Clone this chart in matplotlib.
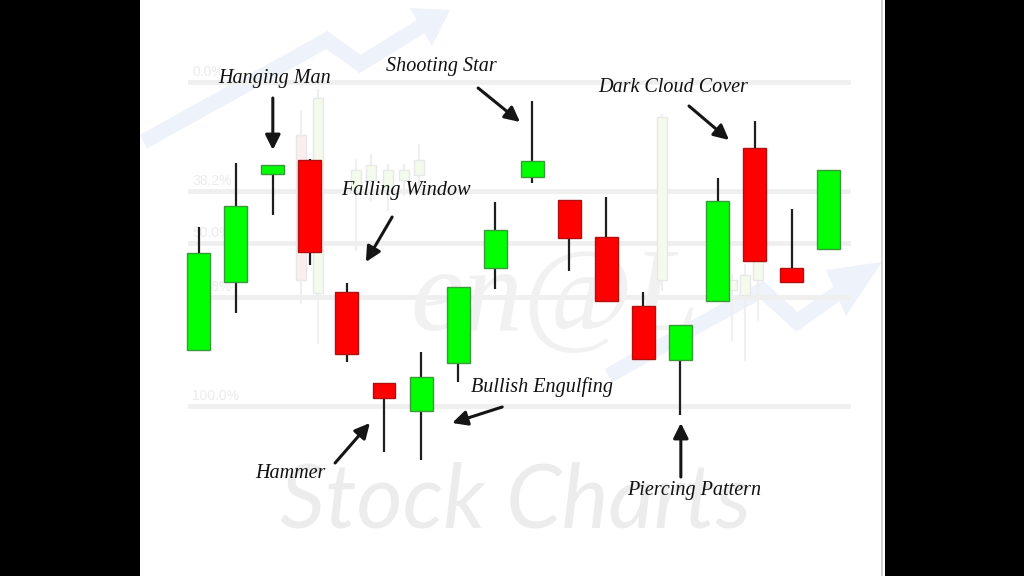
import numpy as np
import matplotlib
matplotlib.use("Agg")
import matplotlib.pyplot as plt
from matplotlib.patches import Rectangle, Polygon

# candle data (price units), one candle per session
opens  = [15.0, 21.8, 32.6, 34.0, 20.8, 11.7,  8.9, 13.7, 23.2, 32.3, 30.0, 26.3, 19.4, 14.0, 19.9, 35.2, 23.2, 25.1]
closes = [24.7, 29.4, 33.5, 24.8, 14.6, 10.2, 12.3, 21.3, 27.0, 33.9, 26.2, 19.9, 14.1, 17.5, 29.9, 23.9, 21.8, 33.0]
highs  = [27.3, 33.7, 33.5, 34.1, 21.7, 11.7, 14.8, 21.3, 29.8, 39.9, 30.0, 30.3, 20.8, 17.5, 32.2, 37.9, 29.1, 33.0]
lows   = [15.0, 18.7, 28.5, 23.5, 13.8,  4.8,  4.0, 11.8, 21.1, 31.7, 22.9, 19.9, 14.1,  8.5, 19.9, 23.9, 21.8, 25.1]

# faint candles of the background picture
ghost_t     = [2.75, 3.22, 4.25, 4.65, 5.1, 5.55, 5.95, 12.5, 14.4, 14.75, 15.1]
ghost_open  = [36.5, 20.7, 31.0, 32.0, 31.0, 32.0, 32.5, 22.0, 21.0, 20.5, 22.0]
ghost_close = [22.0, 40.2, 33.0, 33.5, 33.0, 33.0, 34.0, 38.3, 22.0, 22.5, 24.0]
ghost_high  = [38.8, 41.0, 34.0, 34.5, 33.5, 33.5, 35.5, 38.5, 22.5, 23.5, 25.0]
ghost_low   = [19.7, 15.7, 25.0, 30.0, 29.0, 30.5, 31.5, 21.0, 16.0, 14.0, 18.0]

fib_levels = [41.8, 30.9, 25.7, 20.3, 9.4]
fib_labels = ["0.0%", "38.2%", "50.0%", "61.8%", "100.0%"]

# pattern names: (label, label x, label y, arrow tail, arrow head)
patterns = [
    ("Hanging Man",       2.04, 42.2, (2.00, 40.2), (2.00, 35.0)),
    ("Shooting Star",     6.54, 43.3, (7.54, 41.2), (8.67, 37.8)),
    ("Dark Cloud Cover", 12.80, 41.2, (13.23, 39.4), (14.31, 36.0)),
    ("Falling Window",    5.59, 31.0, (5.22, 28.3), (4.51, 23.8)),
    ("Bullish Engulfing", 9.27, 11.3, (8.19, 9.3), (6.84, 7.7)),
    ("Hammer",            2.47, 2.7, (3.68, 3.7), (4.62, 7.7)),
    ("Piercing Pattern", 13.37, 1.0, (13.01, 2.3), (13.01, 7.7)),
]

W, H = 1024, 576
fig = plt.figure(figsize=(W / 100, H / 100), dpi=100, facecolor="black")
ax = fig.add_axes([140 / W, 0, 745 / W, 1], facecolor="white")
ax.set_xlim(-1.584, 18.519)
ax.set_ylim(-7.6, 50)
ax.axis("off")
ax.add_patch(Rectangle((0, 0), 1, 1, transform=ax.transAxes, facecolor="white",
                       edgecolor="none", zorder=0))
ax.axvline(18.45, color="#c8c8c8", lw=1.2, zorder=1)


def px(x, y):
    # figure fraction from pixel position (top-left origin)
    return (x / W, 1 - y / H)


# pale blue trend arrows of the watermark
for pts, head in [
    ([(150, 138), (327, 40), (360, 64), (425, 24)], [(410, 8), (450, 10), (432, 46)]),
    ([(615, 372), (762, 290), (797, 322), (852, 283)], [(826, 270), (882, 262), (846, 316)]),
]:
    xs, ys = zip(*[px(*p) for p in pts])
    ln = plt.Line2D(xs, ys, color="#eef2fa", lw=11, solid_joinstyle="miter",
                    transform=fig.transFigure, zorder=0.5)
    ln.set_clip_path(ax.patch)
    ax.add_artist(ln)
    ax.add_patch(Polygon([px(*p) for p in head], closed=True, facecolor="#eef2fa",
                         edgecolor="none", transform=fig.transFigure, zorder=0.5))

# fibonacci guide lines
for lev, lab in zip(fib_levels, fib_labels):
    ax.plot([-0.23, 17.52], [lev, lev], color="#efefef", lw=3.5, zorder=1)
    ax.text(-0.18, lev + 0.3, lab, color="#ebebeb", fontsize=10,
            family="Liberation Sans", ha="left", va="bottom", zorder=1)

# watermark texts
ax.text(9.6, 17.0, "en@L", color="#f1f1f1", fontsize=86, style="italic",
        family="Liberation Serif", ha="center", va="baseline", zorder=1)
ax.text(8.55, -2.8, "Stock Charts", color="#ececec", fontsize=64, style="italic",
        family=["Lato", "DejaVu Sans"], ha="center", va="baseline",
        zorder=1, clip_on=True)

# ghost candles
gw = 0.27
for t, o, c, hi, lo in zip(ghost_t, ghost_open, ghost_close, ghost_high, ghost_low):
    col = "#f5fbec" if c >= o else "#fbeeee"
    ax.plot([t, t], [lo, hi], color="#efefef", lw=1.5, zorder=1.5)
    ax.add_patch(Rectangle((t - gw / 2, min(o, c)), gw, abs(c - o), facecolor=col,
                           edgecolor="#e8e8e8", lw=1, zorder=1.6))

# main candles
bw = 0.62
for i, (o, c, hi, lo) in enumerate(zip(opens, closes, highs, lows)):
    up = c >= o
    ax.plot([i, i], [lo, hi], color="#1e1e1e", lw=1.6, zorder=3, solid_capstyle="butt")
    ax.add_patch(Rectangle((i - bw / 2, min(o, c)), bw, abs(c - o),
                           facecolor="#00ff00" if up else "#ff0000",
                           edgecolor="#3a9a3a" if up else "#b01010", lw=1, zorder=4))

# pattern labels and arrows
for name, lx, ly, tail, head in patterns:
    ax.text(lx, ly, name, fontsize=14.5, style="italic", family="Liberation Serif",
            color="#111111", ha="center", va="center", zorder=5)
    ax.annotate("", xy=head, xytext=tail,
                arrowprops=dict(arrowstyle="-|>,head_length=0.9,head_width=0.45",
                                color="#151515", lw=2.2, shrinkA=0, shrinkB=0),
                zorder=5)

fig.savefig("out.png", dpi=100, facecolor="black")
